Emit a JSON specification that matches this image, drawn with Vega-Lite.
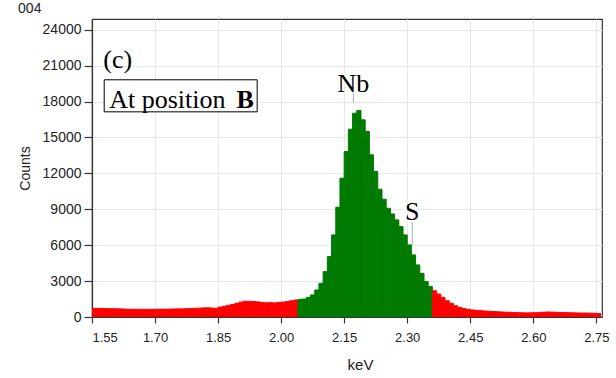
{
  "$schema": "https://vega.github.io/schema/vega-lite/v6.json",
  "width": 510,
  "height": 298,
  "autosize": "none",
  "padding": {"left": 92, "top": 19, "right": 14, "bottom": 61},
  "background": "white",
  "config": {
    "view": {"stroke": "#333333", "strokeWidth": 1.2},
    "axis": {
      "labelFont": "Liberation Sans",
      "titleFont": "Liberation Sans",
      "labelColor": "#222222",
      "titleColor": "#222222",
      "domainColor": "#333333",
      "tickColor": "#333333",
      "domainWidth": 1.2,
      "tickWidth": 1.2,
      "gridColor": "#e8e8e8",
      "gridWidth": 1,
      "titleFontWeight": "normal"
    }
  },
  "title": {
    "text": "004",
    "anchor": "start",
    "font": "Liberation Sans",
    "fontSize": 14,
    "fontWeight": "normal",
    "color": "#222222",
    "offset": 3
  },
  "datasets": {
    "spec": [
      {"x": 1.55, "x2": 1.56, "y": 720, "r": "bg"},
      {"x": 1.56, "x2": 1.57, "y": 720, "r": "bg"},
      {"x": 1.57, "x2": 1.58, "y": 710, "r": "bg"},
      {"x": 1.58, "x2": 1.59, "y": 700, "r": "bg"},
      {"x": 1.59, "x2": 1.60, "y": 690, "r": "bg"},
      {"x": 1.60, "x2": 1.61, "y": 690, "r": "bg"},
      {"x": 1.61, "x2": 1.62, "y": 680, "r": "bg"},
      {"x": 1.62, "x2": 1.63, "y": 670, "r": "bg"},
      {"x": 1.63, "x2": 1.64, "y": 650, "r": "bg"},
      {"x": 1.64, "x2": 1.65, "y": 650, "r": "bg"},
      {"x": 1.65, "x2": 1.66, "y": 640, "r": "bg"},
      {"x": 1.66, "x2": 1.67, "y": 640, "r": "bg"},
      {"x": 1.67, "x2": 1.68, "y": 650, "r": "bg"},
      {"x": 1.68, "x2": 1.69, "y": 640, "r": "bg"},
      {"x": 1.69, "x2": 1.70, "y": 640, "r": "bg"},
      {"x": 1.70, "x2": 1.71, "y": 650, "r": "bg"},
      {"x": 1.71, "x2": 1.72, "y": 660, "r": "bg"},
      {"x": 1.72, "x2": 1.73, "y": 650, "r": "bg"},
      {"x": 1.73, "x2": 1.74, "y": 660, "r": "bg"},
      {"x": 1.74, "x2": 1.75, "y": 670, "r": "bg"},
      {"x": 1.75, "x2": 1.76, "y": 680, "r": "bg"},
      {"x": 1.76, "x2": 1.77, "y": 680, "r": "bg"},
      {"x": 1.77, "x2": 1.78, "y": 690, "r": "bg"},
      {"x": 1.78, "x2": 1.79, "y": 700, "r": "bg"},
      {"x": 1.79, "x2": 1.80, "y": 720, "r": "bg"},
      {"x": 1.80, "x2": 1.81, "y": 740, "r": "bg"},
      {"x": 1.81, "x2": 1.82, "y": 760, "r": "bg"},
      {"x": 1.82, "x2": 1.83, "y": 770, "r": "bg"},
      {"x": 1.83, "x2": 1.84, "y": 750, "r": "bg"},
      {"x": 1.84, "x2": 1.85, "y": 730, "r": "bg"},
      {"x": 1.85, "x2": 1.86, "y": 820, "r": "bg"},
      {"x": 1.86, "x2": 1.87, "y": 900, "r": "bg"},
      {"x": 1.87, "x2": 1.88, "y": 980, "r": "bg"},
      {"x": 1.88, "x2": 1.89, "y": 1050, "r": "bg"},
      {"x": 1.89, "x2": 1.90, "y": 1150, "r": "bg"},
      {"x": 1.90, "x2": 1.91, "y": 1250, "r": "bg"},
      {"x": 1.91, "x2": 1.92, "y": 1320, "r": "bg"},
      {"x": 1.92, "x2": 1.93, "y": 1310, "r": "bg"},
      {"x": 1.93, "x2": 1.94, "y": 1300, "r": "bg"},
      {"x": 1.94, "x2": 1.95, "y": 1260, "r": "bg"},
      {"x": 1.95, "x2": 1.96, "y": 1220, "r": "bg"},
      {"x": 1.96, "x2": 1.97, "y": 1190, "r": "bg"},
      {"x": 1.97, "x2": 1.98, "y": 1200, "r": "bg"},
      {"x": 1.98, "x2": 1.99, "y": 1180, "r": "bg"},
      {"x": 1.99, "x2": 2.00, "y": 1220, "r": "bg"},
      {"x": 2.00, "x2": 2.01, "y": 1250, "r": "bg"},
      {"x": 2.01, "x2": 2.02, "y": 1300, "r": "bg"},
      {"x": 2.02, "x2": 2.03, "y": 1360, "r": "bg"},
      {"x": 2.03, "x2": 2.04, "y": 1420, "r": "bg"},
      {"x": 2.04, "x2": 2.05, "y": 1478, "r": "pk"},
      {"x": 2.05, "x2": 2.06, "y": 1500, "r": "pk"},
      {"x": 2.06, "x2": 2.07, "y": 1645, "r": "pk"},
      {"x": 2.07, "x2": 2.08, "y": 1840, "r": "pk"},
      {"x": 2.08, "x2": 2.09, "y": 2258, "r": "pk"},
      {"x": 2.09, "x2": 2.10, "y": 2815, "r": "pk"},
      {"x": 2.10, "x2": 2.11, "y": 3790, "r": "pk"},
      {"x": 2.11, "x2": 2.12, "y": 5045, "r": "pk"},
      {"x": 2.12, "x2": 2.13, "y": 6858, "r": "pk"},
      {"x": 2.13, "x2": 2.14, "y": 9172, "r": "pk"},
      {"x": 2.14, "x2": 2.15, "y": 11597, "r": "pk"},
      {"x": 2.15, "x2": 2.16, "y": 13827, "r": "pk"},
      {"x": 2.16, "x2": 2.17, "y": 15695, "r": "pk"},
      {"x": 2.17, "x2": 2.18, "y": 17032, "r": "pk"},
      {"x": 2.18, "x2": 2.19, "y": 17255, "r": "pk"},
      {"x": 2.19, "x2": 2.20, "y": 16475, "r": "pk"},
      {"x": 2.20, "x2": 2.21, "y": 15500, "r": "pk"},
      {"x": 2.21, "x2": 2.22, "y": 13548, "r": "pk"},
      {"x": 2.22, "x2": 2.23, "y": 12155, "r": "pk"},
      {"x": 2.23, "x2": 2.24, "y": 10677, "r": "pk"},
      {"x": 2.24, "x2": 2.25, "y": 9840, "r": "pk"},
      {"x": 2.25, "x2": 2.26, "y": 9087, "r": "pk"},
      {"x": 2.26, "x2": 2.27, "y": 8614, "r": "pk"},
      {"x": 2.27, "x2": 2.28, "y": 8112, "r": "pk"},
      {"x": 2.28, "x2": 2.29, "y": 7555, "r": "pk"},
      {"x": 2.29, "x2": 2.30, "y": 6858, "r": "pk"},
      {"x": 2.30, "x2": 2.31, "y": 6021, "r": "pk"},
      {"x": 2.31, "x2": 2.32, "y": 5185, "r": "pk"},
      {"x": 2.32, "x2": 2.33, "y": 4349, "r": "pk"},
      {"x": 2.33, "x2": 2.34, "y": 3651, "r": "pk"},
      {"x": 2.34, "x2": 2.35, "y": 2955, "r": "pk"},
      {"x": 2.35, "x2": 2.36, "y": 2537, "r": "pk"},
      {"x": 2.36, "x2": 2.37, "y": 2190, "r": "bg"},
      {"x": 2.37, "x2": 2.38, "y": 1920, "r": "bg"},
      {"x": 2.38, "x2": 2.39, "y": 1640, "r": "bg"},
      {"x": 2.39, "x2": 2.40, "y": 1360, "r": "bg"},
      {"x": 2.40, "x2": 2.41, "y": 1140, "r": "bg"},
      {"x": 2.41, "x2": 2.42, "y": 940, "r": "bg"},
      {"x": 2.42, "x2": 2.43, "y": 810, "r": "bg"},
      {"x": 2.43, "x2": 2.44, "y": 700, "r": "bg"},
      {"x": 2.44, "x2": 2.45, "y": 640, "r": "bg"},
      {"x": 2.45, "x2": 2.46, "y": 590, "r": "bg"},
      {"x": 2.46, "x2": 2.47, "y": 560, "r": "bg"},
      {"x": 2.47, "x2": 2.48, "y": 530, "r": "bg"},
      {"x": 2.48, "x2": 2.49, "y": 500, "r": "bg"},
      {"x": 2.49, "x2": 2.50, "y": 480, "r": "bg"},
      {"x": 2.50, "x2": 2.51, "y": 460, "r": "bg"},
      {"x": 2.51, "x2": 2.52, "y": 440, "r": "bg"},
      {"x": 2.52, "x2": 2.53, "y": 420, "r": "bg"},
      {"x": 2.53, "x2": 2.54, "y": 400, "r": "bg"},
      {"x": 2.54, "x2": 2.55, "y": 390, "r": "bg"},
      {"x": 2.55, "x2": 2.56, "y": 370, "r": "bg"},
      {"x": 2.56, "x2": 2.57, "y": 360, "r": "bg"},
      {"x": 2.57, "x2": 2.58, "y": 350, "r": "bg"},
      {"x": 2.58, "x2": 2.59, "y": 340, "r": "bg"},
      {"x": 2.59, "x2": 2.60, "y": 350, "r": "bg"},
      {"x": 2.60, "x2": 2.61, "y": 360, "r": "bg"},
      {"x": 2.61, "x2": 2.62, "y": 380, "r": "bg"},
      {"x": 2.62, "x2": 2.63, "y": 400, "r": "bg"},
      {"x": 2.63, "x2": 2.64, "y": 420, "r": "bg"},
      {"x": 2.64, "x2": 2.65, "y": 410, "r": "bg"},
      {"x": 2.65, "x2": 2.66, "y": 390, "r": "bg"},
      {"x": 2.66, "x2": 2.67, "y": 380, "r": "bg"},
      {"x": 2.67, "x2": 2.68, "y": 370, "r": "bg"},
      {"x": 2.68, "x2": 2.69, "y": 360, "r": "bg"},
      {"x": 2.69, "x2": 2.70, "y": 350, "r": "bg"},
      {"x": 2.70, "x2": 2.71, "y": 340, "r": "bg"},
      {"x": 2.71, "x2": 2.72, "y": 330, "r": "bg"},
      {"x": 2.72, "x2": 2.73, "y": 330, "r": "bg"},
      {"x": 2.73, "x2": 2.74, "y": 320, "r": "bg"},
      {"x": 2.74, "x2": 2.75, "y": 310, "r": "bg"},
      {"x": 2.75, "x2": 2.76, "y": 300, "r": "bg"}
    ],
    "lines": [
      {"x": 2.172, "y": 18730, "y2": 17900},
      {"x": 2.312, "y": 7945, "y2": 6021}
    ],
    "peaks": [
      {"x": 2.172, "y": 18816, "label": "Nb"},
      {"x": 2.312, "y": 8112, "label": "S"}
    ],
    "box": [
      {"x": 1.579, "x2": 1.943, "y": 19820, "y2": 17143}
    ],
    "panel": [
      {"x": 1.577, "y": 20823, "label": "(c)"},
      {"x": 1.591, "y": 17478, "label": "At position"}
    ],
    "bold": [
      {"x": 1.894, "y": 17478, "label": "B"}
    ]
  },
  "encoding": {
    "x": {
      "field": "x",
      "type": "quantitative",
      "scale": {"domain": [1.55, 2.7635], "nice": false, "zero": false},
      "axis": {
        "title": "keV",
        "titleFontSize": 15,
        "titleX": 268,
        "titleAlign": "center",
        "titlePadding": 13,
        "values": [1.55, 1.7, 1.85, 2.0, 2.15, 2.3, 2.45, 2.6, 2.75],
        "format": ".2f",
        "labelFontSize": 13,
        "labelPadding": 8,
        "tickSize": 6,
        "grid": true
      }
    },
    "y": {
      "field": "y",
      "type": "quantitative",
      "scale": {"domain": [0, 24900], "nice": false},
      "axis": {
        "title": "Counts",
        "titleFontSize": 14,
        "titlePadding": 10,
        "values": [0, 3000, 6000, 9000, 12000, 15000, 18000, 21000, 24000],
        "format": "d",
        "labelFontSize": 14,
        "labelPadding": 3,
        "tickSize": 8,
        "grid": true
      }
    }
  },
  "layer": [
    {
      "data": {"name": "spec"},
      "mark": {"type": "rect", "clip": true, "strokeWidth": 1},
      "encoding": {
        "x2": {"field": "x2"},
        "y2": {"datum": 0},
        "color": {
          "field": "r",
          "type": "nominal",
          "scale": {"domain": ["bg", "pk"], "range": ["#ff0000", "#007a00"]},
          "legend": null
        },
        "stroke": {
          "field": "r",
          "type": "nominal",
          "scale": {"domain": ["bg", "pk"], "range": ["#ff0000", "#007a00"]},
          "legend": null
        }
      }
    },
    {
      "data": {"name": "lines"},
      "mark": {"type": "rule", "color": "#a8acc0", "strokeWidth": 1},
      "encoding": {"y2": {"field": "y2"}}
    },
    {
      "data": {"name": "peaks"},
      "mark": {"type": "text", "font": "Liberation Serif", "fontSize": 26, "align": "center", "baseline": "alphabetic", "color": "#000000"},
      "encoding": {"text": {"field": "label"}}
    },
    {
      "data": {"name": "box"},
      "mark": {"type": "rect", "fill": "white", "stroke": "#000000", "strokeWidth": 1},
      "encoding": {"x2": {"field": "x2"}, "y2": {"field": "y2"}}
    },
    {
      "data": {"name": "panel"},
      "mark": {"type": "text", "font": "Liberation Serif", "fontSize": 26, "align": "left", "baseline": "alphabetic", "color": "#000000"},
      "encoding": {"text": {"field": "label"}}
    },
    {
      "data": {"name": "bold"},
      "mark": {"type": "text", "font": "Liberation Serif", "fontSize": 26, "fontWeight": "bold", "align": "left", "baseline": "alphabetic", "color": "#000000"},
      "encoding": {"text": {"field": "label"}}
    }
  ]
}
